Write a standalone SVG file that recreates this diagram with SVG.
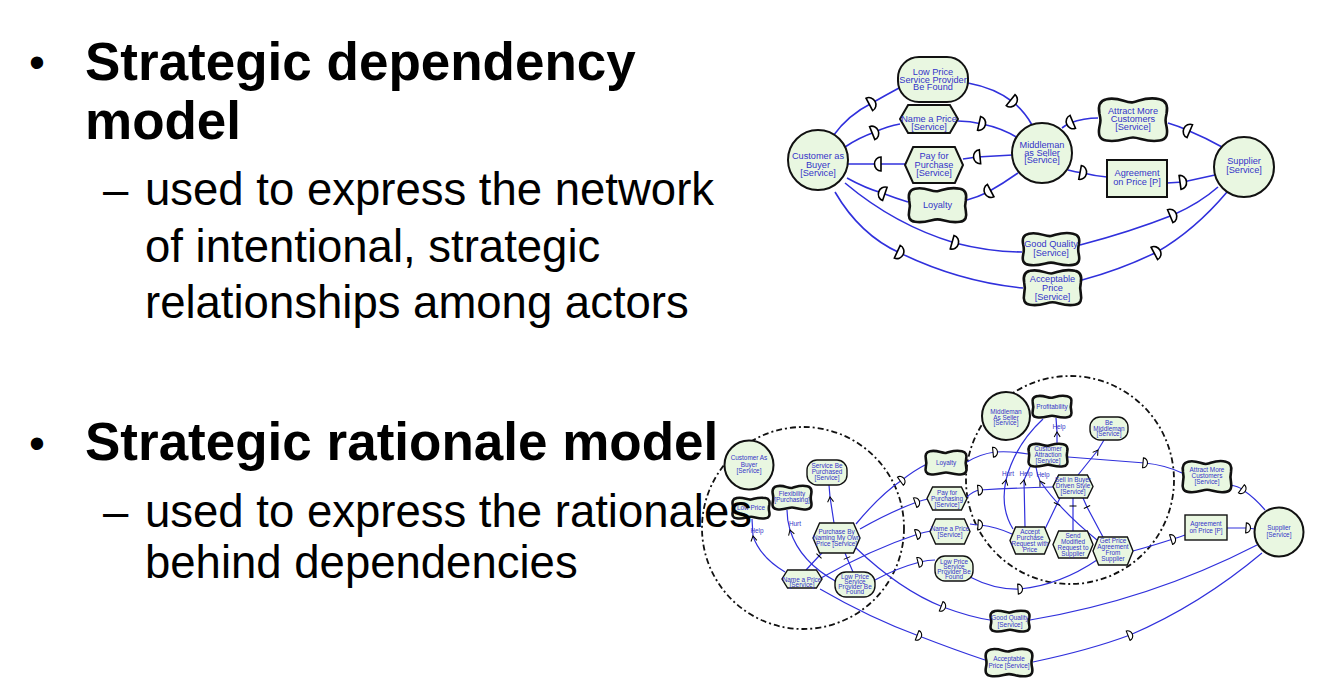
<svg xmlns="http://www.w3.org/2000/svg" width="1327" height="684" viewBox="0 0 1327 684">
<style>
.n{fill:#e9f7e1;stroke:#111}
.s2{stroke-width:2}
.s3{stroke-width:2.6}
.s1{stroke-width:1.4}
.t{font-family:"Liberation Sans",Arial,sans-serif;fill:#3434c8;text-anchor:middle}
.t1{font-size:9.2px}
.t2{font-size:6.4px}
.c{fill:none;stroke:#3030dc;stroke-width:1.6}
.c2{fill:none;stroke:#3030dc;stroke-width:1.2}
.b{fill:none;stroke:#111;stroke-width:1.8;stroke-dasharray:6 3 2 3}
.h{font-family:"Liberation Sans",Arial,sans-serif;fill:#000}
.hb{font-size:53px;font-weight:bold}
.hs{font-size:45.5px}
</style>
<defs>
<path id="hex" d="M14,0 L86,0 L100,30 L86,60 L14,60 L0,30 Z" vector-effect="non-scaling-stroke"/>
<path id="sg" d="M12,3 C30,-1 40,9 50,7 C60,5 70,-1 88,3 C98,5 100,12 98,22 C96,30 96,32 98,40 C100,50 98,57 88,58 C70,61 60,54 50,54 C40,54 30,61 12,58 C2,57 0,50 2,40 C4,32 4,30 2,22 C0,12 2,5 12,3 Z" vector-effect="non-scaling-stroke"/>
<marker id="dF" markerUnits="userSpaceOnUse" orient="auto" markerWidth="1" markerHeight="1" overflow="visible"><path d="M-3,-7 A6.5,7 0 0 1 -3,7 Z" fill="#fff" stroke="#000" stroke-width="1.6"/></marker>
<marker id="dB" markerUnits="userSpaceOnUse" orient="auto" markerWidth="1" markerHeight="1" overflow="visible"><path d="M3,-7 A6.5,7 0 0 0 3,7 Z" fill="#fff" stroke="#000" stroke-width="1.6"/></marker>
<marker id="sF" markerUnits="userSpaceOnUse" orient="auto" markerWidth="1" markerHeight="1" overflow="visible"><path d="M-2,-5 A4.5,5 0 0 1 -2,5 Z" fill="#fff" stroke="#000" stroke-width="1.1"/></marker>
<marker id="ar" markerUnits="userSpaceOnUse" orient="auto" markerWidth="1" markerHeight="1" overflow="visible"><path d="M-5,-3 L0,0 L-5,3" fill="none" stroke="#000" stroke-width="1"/></marker>
<marker id="tk" markerUnits="userSpaceOnUse" orient="auto" markerWidth="1" markerHeight="1" overflow="visible"><path d="M0,-3.5 L0,3.5" stroke="#000" stroke-width="1"/></marker>
</defs>

<!-- ===== Strategic dependency model ===== -->
<g id="sd-connectors">
<path class="c" marker-mid="url(#dF)" d="M833,136 Q848,115 872,103 Q886,95 899,88"/>
<path class="c" marker-mid="url(#dF)" d="M968,83 Q995,88 1013,102 Q1025,112 1032,125"/>
<path class="c" marker-mid="url(#dF)" d="M845,147 Q858,138 875,132 Q888,126 900,124"/>
<path class="c" marker-mid="url(#dF)" d="M958,121 Q970,121 982,124 Q1002,128 1018,138"/>
<path class="c" marker-mid="url(#dB)" d="M848,164 L878,164 L906,164"/>
<path class="c" marker-mid="url(#dB)" d="M963,159 L977,157 L1013,155"/>
<path class="c" marker-mid="url(#dB)" d="M847,178 Q865,188 882,193 Q895,198 908,202"/>
<path class="c" marker-mid="url(#dB)" d="M967,200 Q978,197 988,192 Q1004,183 1018,173"/>
<path class="c" marker-mid="url(#dF)" d="M845,183 Q895,225 955,243 Q990,252 1022,252"/>
<path class="c" marker-mid="url(#dF)" d="M835,192 Q860,235 900,253 Q960,282 1023,288"/>
<path class="c" marker-mid="url(#dF)" d="M1080,245 Q1130,232 1173,215 Q1200,203 1218,187"/>
<path class="c" marker-mid="url(#dF)" d="M1082,280 Q1120,270 1157,252 Q1195,230 1227,192"/>
<path class="c" marker-mid="url(#dB)" d="M1062,128 Q1066,125 1070,123 Q1084,118 1098,118"/>
<path class="c" marker-mid="url(#dB)" d="M1168,123 Q1178,126 1187,130 Q1206,138 1222,147"/>
<path class="c" marker-mid="url(#dF)" d="M1068,170 Q1075,172 1083,173 Q1095,176 1107,177"/>
<path class="c" marker-mid="url(#dF)" d="M1167,183 L1183,182 L1215,175"/>
</g>

<g id="sd-customer"><circle class="n s2" cx="818" cy="160" r="30"/><text class="t t1"><tspan x="818" y="159">Customer as</tspan><tspan x="818" y="167.5">Buyer</tspan><tspan x="818" y="176">[Service]</tspan></text></g>
<g id="sd-lowprice"><rect class="n s2" x="898" y="57" width="70" height="45" rx="21"/><text class="t t1"><tspan x="933" y="75">Low Price</tspan><tspan x="933" y="82.5">Service Provider</tspan><tspan x="933" y="90">Be Found</tspan></text></g>
<g id="sd-nameprice"><use href="#hex" class="n s2" transform="translate(900,105) scale(0.58,0.4667)"/><text class="t t1"><tspan x="929" y="122">Name a Price</tspan><tspan x="929" y="130">[Service]</tspan></text></g>
<g id="sd-payfor"><use href="#hex" class="n s2" transform="translate(905,147) scale(0.58,0.6)"/><text class="t t1"><tspan x="934" y="159">Pay for</tspan><tspan x="934" y="168">Purchase</tspan><tspan x="934" y="176">[Service]</tspan></text></g>
<g id="sd-loyalty"><use href="#sg" class="n s3" transform="translate(908,187) scale(0.59,0.6)"/><text class="t t1" x="937.5" y="208">Loyalty</text></g>
<g id="sd-middleman"><circle class="n s2" cx="1042" cy="153" r="30"/><text class="t t1"><tspan x="1042" y="148">Middleman</tspan><tspan x="1042" y="155.5">as Seller</tspan><tspan x="1042" y="163">[Service]</tspan></text></g>
<g id="sd-attract"><use href="#sg" class="n s3" transform="translate(1098,97) scale(0.7,0.75)"/><text class="t t1"><tspan x="1133" y="114">Attract More</tspan><tspan x="1133" y="122">Customers</tspan><tspan x="1133" y="130">[Service]</tspan></text></g>
<g id="sd-agreement"><rect class="n s2" x="1107" y="160" width="60" height="37"/><text class="t t1"><tspan x="1137" y="176">Agreement</tspan><tspan x="1137" y="185">on Price [P]</tspan></text></g>
<g id="sd-supplier"><circle class="n s2" cx="1244" cy="167" r="30"/><text class="t t1"><tspan x="1244" y="164">Supplier</tspan><tspan x="1244" y="173">[Service]</tspan></text></g>
<g id="sd-goodquality"><use href="#sg" class="n s3" transform="translate(1022,232) scale(0.58,0.567)"/><text class="t t1"><tspan x="1051" y="247">Good Quality</tspan><tspan x="1051" y="256">[Service]</tspan></text></g>
<g id="sd-acceptable"><use href="#sg" class="n s3" transform="translate(1023,269) scale(0.59,0.617)"/><text class="t t1"><tspan x="1052.5" y="282">Acceptable</tspan><tspan x="1052.5" y="291">Price</tspan><tspan x="1052.5" y="300">[Service]</tspan></text></g>

<!-- ===== Strategic rationale model ===== -->
<g id="sr-boundaries">
<circle class="b" cx="803" cy="528" r="101"/>
<circle class="b" cx="1070" cy="480" r="104"/>
</g>
<g id="sr-connectors">
<path class="c2" marker-mid="url(#ar)" d="M785,572 Q760,557 753,536 L752,519"/>
<path class="c2" marker-mid="url(#ar)" d="M837,582 Q800,562 790,530 Q787,520 787,510"/>
<path class="c2" marker-mid="url(#ar)" d="M834,523 L830,497 L829,485"/>
<path class="c2" marker-mid="url(#tk)" d="M806,570 L819,556 L822,553"/>
<path class="c2" marker-mid="url(#tk)" d="M853,572 L847,558 L845,553"/>
<path class="c2" marker-mid="url(#sF)" d="M856,524 Q880,495 902,480 Q915,470 925,465"/>
<path class="c2" marker-mid="url(#sF)" d="M860,529 Q890,512 917,502 Q923,500 928,499"/>
<path class="c2" marker-mid="url(#sF)" d="M821,578 Q870,550 918,534 Q925,532 931,531"/>
<path class="c2" marker-mid="url(#sF)" d="M875,580 Q897,568 920,562 Q928,560 935,560"/>
<path class="c2" marker-mid="url(#sF)" d="M856,548 Q900,590 943,607 Q970,617 990,620"/>
<path class="c2" marker-mid="url(#sF)" d="M820,589 Q870,618 919,636 Q955,650 985,660"/>
<path class="c2" marker-mid="url(#sF)" d="M967,462 Q980,454 995,452 Q1012,451 1028,454"/>
<path class="c2" marker-mid="url(#sF)" d="M1068,457 Q1105,460 1145,463 Q1165,465 1182,473"/>
<path class="c2" marker-mid="url(#sF)" d="M967,497 Q973,491 980,490 Q1015,488 1053,487"/>
<path class="c2" marker-mid="url(#sF)" d="M970,524 Q975,525 980,525 Q997,527 1012,534"/>
<path class="c2" marker-mid="url(#sF)" d="M970,577 Q995,590 1020,589 Q1060,585 1097,560"/>
<path class="c2" marker-mid="url(#sF)" d="M1133,551 Q1155,545 1173,539 Q1180,537 1185,535"/>
<path class="c2" marker-mid="url(#sF)" d="M1230,485 Q1238,486 1243,490 Q1255,498 1265,510"/>
<path class="c2" marker-mid="url(#sF)" d="M1227,528 L1248,528 L1255,529"/>
<path class="c2" d="M1030,620 Q1150,600 1257,545"/>
<path class="c2" marker-mid="url(#sF)" d="M1033,662 Q1090,650 1130,635 Q1200,605 1262,553"/>
<path class="c2" marker-mid="url(#ar)" d="M1057,443 L1057,432 L1056,418"/>
<path class="c2" marker-mid="url(#ar)" d="M1013,529 Q1000,508 1006,480 Q1015,445 1043,419"/>
<path class="c2" marker-mid="url(#ar)" d="M1025,527 L1024,480 L1030,467"/>
<path class="c2" marker-mid="url(#ar)" d="M1097,540 Q1060,510 1040,481 Q1037,475 1036,467"/>
<path class="c2" marker-mid="url(#tk)" d="M1045,529 L1057,504 L1060,498"/>
<path class="c2" marker-mid="url(#tk)" d="M1073,531 L1073,506 L1073,498"/>
<path class="c2" marker-mid="url(#tk)" d="M1103,537 L1087,507 L1083,498"/>
<path class="c2" marker-mid="url(#ar)" d="M1078,475 L1098,450 L1104,440"/>
</g>
<g id="sr-labels" class="t t2">
<text x="757" y="533">Help</text>
<text x="795" y="526">Hurt</text>
<text x="1059" y="429">Help</text>
<text x="1008" y="476">Hurt</text>
<text x="1026" y="476">Help</text>
<text x="1043" y="477">Help</text>
</g>

<g id="sr-customer"><circle class="n s2" cx="749" cy="465" r="24.5"/><text class="t t2"><tspan x="749" y="460">Customer As</tspan><tspan x="749" y="466.5">Buyer</tspan><tspan x="749" y="473">[Service]</tspan></text></g>
<g id="sr-lowprice"><use href="#sg" class="n s3" transform="translate(732,497) scale(0.38,0.367)"/><text class="t t2" x="751" y="510">Low Price</text></g>
<g id="sr-flexibility"><use href="#sg" class="n s3" transform="translate(772,485) scale(0.40,0.417)"/><text class="t t2"><tspan x="792" y="495.5">Flexibility</tspan><tspan x="792" y="502">[Purchasing]</tspan></text></g>
<g id="sr-servicebe"><rect class="n s1" x="807" y="460" width="40" height="25" rx="10"/><text class="t t2"><tspan x="827" y="468">Service Be</tspan><tspan x="827" y="474">Purchased</tspan><tspan x="827" y="480">[Service]</tspan></text></g>
<g id="sr-purchaseby"><use href="#hex" class="n s1" transform="translate(813,523) scale(0.47,0.5)"/><text class="t t2"><tspan x="836.5" y="534">Purchase By</tspan><tspan x="836.5" y="540">Naming My Own</tspan><tspan x="836.5" y="546">Price [Service]</tspan></text></g>
<g id="sr-nameprice-l"><use href="#hex" class="n s1" transform="translate(782,570) scale(0.40,0.30)"/><text class="t t2"><tspan x="802" y="581.5">Name a Price</tspan><tspan x="802" y="587">[Service]</tspan></text></g>
<g id="sr-lowpricesp-l"><rect class="n s1" x="835" y="572" width="40" height="25" rx="11"/><text class="t t2"><tspan x="855" y="579">Low Price</tspan><tspan x="855" y="584">Service</tspan><tspan x="855" y="589">Provider Be</tspan><tspan x="855" y="594">Found</tspan></text></g>
<g id="sr-loyalty"><use href="#sg" class="n s3" transform="translate(925,450) scale(0.42,0.417)"/><text class="t t2" x="946" y="465">Loyalty</text></g>
<g id="sr-payfor"><use href="#hex" class="n s1" transform="translate(927,487) scale(0.40,0.383)"/><text class="t t2"><tspan x="947" y="495">Pay for</tspan><tspan x="947" y="501">Purchasing</tspan><tspan x="947" y="507">[Service]</tspan></text></g>
<g id="sr-nameprice-r"><use href="#hex" class="n s1" transform="translate(930,519) scale(0.40,0.417)"/><text class="t t2"><tspan x="950" y="531">Name a Price</tspan><tspan x="950" y="537">[Service]</tspan></text></g>
<g id="sr-lowpricesp-r"><rect class="n s1" x="935" y="556" width="38" height="25" rx="10"/><text class="t t2"><tspan x="954" y="564">Low Price</tspan><tspan x="954" y="569">Service</tspan><tspan x="954" y="574">Provider Be</tspan><tspan x="954" y="579">Found</tspan></text></g>
<g id="sr-goodquality"><use href="#sg" class="n s3" transform="translate(990,610) scale(0.40,0.367)"/><text class="t t2"><tspan x="1010" y="620">Good Quality</tspan><tspan x="1010" y="627">[Service]</tspan></text></g>
<g id="sr-acceptable"><use href="#sg" class="n s3" transform="translate(985,648) scale(0.48,0.483)"/><text class="t t2"><tspan x="1009" y="661">Acceptable</tspan><tspan x="1009" y="668">Price [Service]</tspan></text></g>
<g id="sr-middleman"><circle class="n s2" cx="1006" cy="416" r="24"/><text class="t t2"><tspan x="1006" y="414">Middleman</tspan><tspan x="1006" y="419.5">As Seller</tspan><tspan x="1006" y="425">[Service]</tspan></text></g>
<g id="sr-profitability"><use href="#sg" class="n s3" transform="translate(1032,395) scale(0.40,0.383)"/><text class="t t2" x="1052" y="409">Profitability</text></g>
<g id="sr-bemiddleman"><rect class="n s1" x="1090" y="417" width="38" height="23" rx="10"/><text class="t t2"><tspan x="1109" y="425">Be</tspan><tspan x="1109" y="430.5">Middleman</tspan><tspan x="1109" y="436">[Service]</tspan></text></g>
<g id="sr-custattraction"><use href="#sg" class="n s3" transform="translate(1028,443) scale(0.40,0.40)"/><text class="t t2"><tspan x="1048" y="451">Customer</tspan><tspan x="1048" y="457">Attraction</tspan><tspan x="1048" y="462.5">[Service]</tspan></text></g>
<g id="sr-sellinbuyer"><use href="#hex" class="n s1" transform="translate(1053,475) scale(0.40,0.383)"/><text class="t t2"><tspan x="1073" y="482">Sell in Buyer</tspan><tspan x="1073" y="488">Driven Style</tspan><tspan x="1073" y="494">[Service]</tspan></text></g>
<g id="sr-accept"><use href="#hex" class="n s1" transform="translate(1010,527) scale(0.40,0.45)"/><text class="t t2"><tspan x="1030" y="534">Accept</tspan><tspan x="1030" y="540">Purchase</tspan><tspan x="1030" y="546">Request with</tspan><tspan x="1030" y="552">Price</tspan></text></g>
<g id="sr-sendmodified"><use href="#hex" class="n s1" transform="translate(1053,531) scale(0.40,0.45)"/><text class="t t2"><tspan x="1073" y="538">Send</tspan><tspan x="1073" y="544">Modified</tspan><tspan x="1073" y="550">Request to</tspan><tspan x="1073" y="556">Supplier</tspan></text></g>
<g id="sr-getprice"><use href="#hex" class="n s1" transform="translate(1093,537) scale(0.40,0.467)"/><text class="t t2"><tspan x="1113" y="543">Get Price</tspan><tspan x="1113" y="549">Agreement</tspan><tspan x="1113" y="555">From</tspan><tspan x="1113" y="561">Supplier</tspan></text></g>
<g id="sr-attract"><use href="#sg" class="n s3" transform="translate(1182,460) scale(0.50,0.55)"/><text class="t t2"><tspan x="1207" y="472">Attract More</tspan><tspan x="1207" y="478">Customers</tspan><tspan x="1207" y="484">[Service]</tspan></text></g>
<g id="sr-agreement"><rect class="n s1" x="1185" y="515" width="42" height="25"/><text class="t t2"><tspan x="1206" y="526">Agreement</tspan><tspan x="1206" y="532.5">on Price [P]</tspan></text></g>
<g id="sr-supplier"><circle class="n s2" cx="1279" cy="532" r="24.5"/><text class="t t2"><tspan x="1279" y="530">Supplier</tspan><tspan x="1279" y="537">[Service]</tspan></text></g>

<!-- ===== Slide text ===== -->
<g id="slide-text" class="h">
<text class="hs" x="29" y="78">•</text>
<text class="hb" x="85" y="80">Strategic dependency</text>
<text class="hb" x="85" y="139">model</text>
<text class="hs" x="103" y="205">–</text>
<text class="hs" x="145" y="205">used to express the network</text>
<text class="hs" x="145" y="262">of intentional, strategic</text>
<text class="hs" x="145" y="318">relationships among actors</text>
<text class="hs" x="29" y="459">•</text>
<text class="hb" x="85" y="460">Strategic rationale model</text>
<text class="hs" x="103" y="527">–</text>
<text class="hs" x="145" y="527">used to express the rationales</text>
<text class="hs" x="145" y="578">behind dependencies</text>
</g>
</svg>
